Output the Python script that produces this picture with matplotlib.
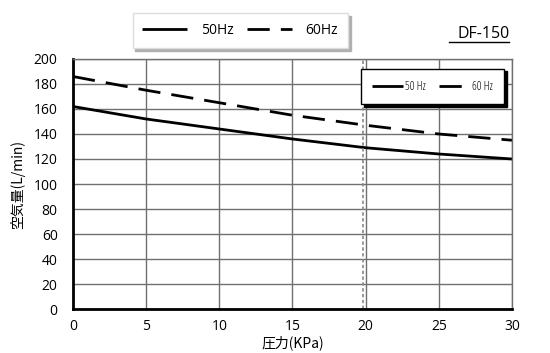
import matplotlib
matplotlib.use("Agg")
import matplotlib.pyplot as plt
from matplotlib.lines import Line2D

plt.rcParams['font.family'] = ['Open Sans', 'Noto Sans CJK JP', 'DejaVu Sans']

pressure = [0, 5, 10, 15, 20, 25, 30]
flow_50hz = [162, 152, 144, 136, 129, 124, 120]
flow_60hz = [186, 175, 165, 155, 147, 140, 135]
series_labels = ["50Hz", "60Hz"]
inner_labels = ["50 Hz", "60 Hz"]
rated_pressure = 19.8
title = "DF-150"
xlabel = "圧力(KPa)"
ylabel = "空気量(L/min)"

fig = plt.figure(figsize=(5.5, 3.53), dpi=100)
ax = fig.add_axes([0.1327, 0.1246, 0.7982, 0.7083])

l1, = ax.plot(pressure, flow_50hz, color='black', lw=2.0, solid_capstyle='butt')
l2, = ax.plot(pressure, flow_60hz, color='black', lw=2.0, dashes=(8, 4))
ax.axvline(rated_pressure, color='#888888', lw=1.2, ls=(0, (2, 1.5)))

ax.set_xlim(0, 30)
ax.set_ylim(0, 200)
ax.set_xticks(range(0, 31, 5))
ax.set_yticks(range(0, 201, 20))
ax.grid(True, color='#707070', lw=1.0)
ax.set_axisbelow(True)
for s in ['top', 'right']:
    ax.spines[s].set_color('#707070')
    ax.spines[s].set_linewidth(1.0)
for s in ['left', 'bottom']:
    ax.spines[s].set_color('black')
    ax.spines[s].set_linewidth(2.0)
ax.tick_params(axis='both', length=0, labelsize=10)
ax.tick_params(axis='y', pad=11)
ax.tick_params(axis='x', pad=7)
ax.set_xlabel(xlabel, fontsize=10, labelpad=1, family=['Noto Sans CJK JP', 'DejaVu Sans'])
ax.set_ylabel(ylabel, fontsize=10, labelpad=6, family=['Noto Sans CJK JP', 'DejaVu Sans'])

# inner legend
leg_in = ax.legend([l1, l2], inner_labels, loc='upper right', bbox_to_anchor=(0.995, 0.985),
                   ncol=2, prop={'size': 8.5, 'stretch': 'condensed'}, frameon=True, fancybox=False,
                   shadow={'color': 'black', 'alpha': 1.0}, edgecolor='black',
                   handlelength=2.6, handletextpad=0.2, columnspacing=1.1,
                   borderpad=0.95)
leg_in.get_frame().set_linewidth(1.0)

# outer legend
leg_out = fig.legend([l1, l2], series_labels, loc='center', bbox_to_anchor=(0.437, 0.913),
                     ncol=2, fontsize=10, frameon=True, fancybox=False,
                     shadow={'color': '#b0b0b0', 'alpha': 1.0}, edgecolor='#dddddd',
                     handlelength=3.2, handletextpad=1.0, columnspacing=1.0,
                     borderpad=0.7)

fig.text(0.926, 0.905, title, ha='right', va='center', fontsize=11.5)
fig.add_artist(Line2D([0.816, 0.926], [0.882, 0.882], color='black', lw=1.0))

fig.savefig("out.png", dpi=100)
